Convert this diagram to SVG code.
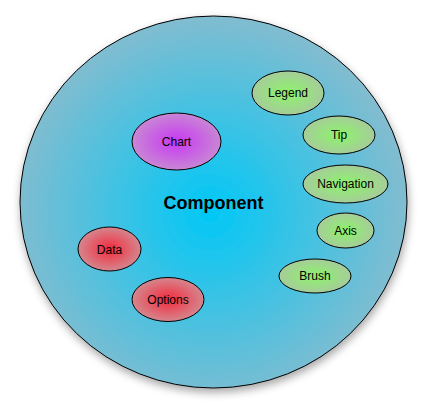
<svg xmlns="http://www.w3.org/2000/svg" width="427" height="412" viewBox="0 0 427 412">
<defs>
<radialGradient id="gBig" cx="210" cy="212" r="200" gradientUnits="userSpaceOnUse">
<stop offset="0" stop-color="#00c8f6"/>
<stop offset="1" stop-color="#84bccf"/>
</radialGradient>
<radialGradient id="gGreen" cx="0.5" cy="0.5" r="0.5">
<stop offset="0" stop-color="#8cf46a"/>
<stop offset="1" stop-color="#a6cc9a"/>
</radialGradient>
<radialGradient id="gRed" cx="0.5" cy="0.5" r="0.5">
<stop offset="0" stop-color="#f42a3c"/>
<stop offset="1" stop-color="#d4868e"/>
</radialGradient>
<radialGradient id="gPurple" cx="0.5" cy="0.5" r="0.5">
<stop offset="0" stop-color="#c838f4"/>
<stop offset="1" stop-color="#c886d4"/>
</radialGradient>
<filter id="shadow" x="-10%" y="-10%" width="125%" height="125%">
<feDropShadow dx="1" dy="4" stdDeviation="4" flood-color="#000" flood-opacity="0.35"/>
</filter>
</defs>
<style>
.node{stroke:#000;stroke-width:1}
.lbl{font-family:"Liberation Sans",Arial,sans-serif;font-size:12px;text-anchor:middle;fill:#000}
.title{font-family:"Liberation Sans",Arial,sans-serif;font-size:18px;font-weight:bold;text-anchor:middle;fill:#000}
</style>
<g id="component">
<ellipse cx="213.5" cy="202" rx="193.5" ry="186" fill="url(#gBig)" stroke="#000" stroke-width="1" filter="url(#shadow)"/>
<text class="title" x="213.5" y="209">Component</text>
</g>
<g id="chart"><ellipse class="node" cx="176.5" cy="141.5" rx="44.5" ry="28.5" fill="url(#gPurple)"/><text class="lbl" x="176.5" y="146">Chart</text></g>
<g id="data"><ellipse class="node" cx="109.5" cy="249" rx="31.5" ry="22" fill="url(#gRed)"/><text class="lbl" x="109.5" y="253.5">Data</text></g>
<g id="options"><ellipse class="node" cx="168" cy="299.5" rx="36" ry="22" fill="url(#gRed)"/><text class="lbl" x="168" y="303.5">Options</text></g>
<g id="legend"><ellipse class="node" cx="288" cy="93" rx="36" ry="22" fill="url(#gGreen)"/><text class="lbl" x="288" y="97">Legend</text></g>
<g id="tip"><ellipse class="node" cx="339" cy="135" rx="36" ry="19" fill="url(#gGreen)"/><text class="lbl" x="339" y="139">Tip</text></g>
<g id="navigation"><ellipse class="node" cx="345.5" cy="184" rx="42.5" ry="19" fill="url(#gGreen)"/><text class="lbl" x="345.5" y="188">Navigation</text></g>
<g id="axis"><ellipse class="node" cx="345.5" cy="230.5" rx="28.5" ry="17.5" fill="url(#gGreen)"/><text class="lbl" x="345.5" y="235">Axis</text></g>
<g id="brush"><ellipse class="node" cx="315" cy="276" rx="36" ry="17" fill="url(#gGreen)"/><text class="lbl" x="315" y="280">Brush</text></g>
<g id="connectors"></g>
</svg>
